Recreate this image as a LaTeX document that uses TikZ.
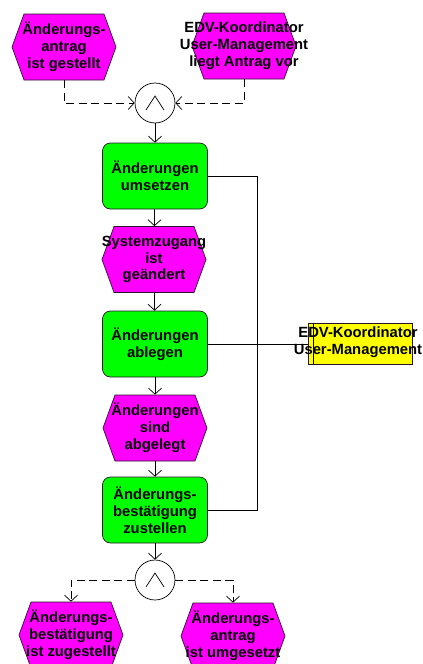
\documentclass[tikz,border=0pt]{standalone}
\usepackage{fontspec}
\setmainfont{Liberation Sans}
\usetikzlibrary{arrows.meta,shapes.symbols}

\definecolor{evfill}{RGB}{255,0,255}
\definecolor{fnfill}{RGB}{0,255,0}
\definecolor{orgfill}{RGB}{255,255,0}
\definecolor{edge}{RGB}{40,20,40}

\begin{document}
\begin{tikzpicture}[x=1pt,y=-1pt,
  lbl/.style={font=\bfseries\fontsize{14.8}{16.8}\selectfont, align=center, inner sep=0pt},
  event/.style={shape=signal, signal to=east and west, signal pointer angle=140,
    draw=edge, line width=0.7pt, fill=evfill, minimum width=104pt, minimum height=66pt, inner sep=0pt},
  func/.style={rectangle, rounded corners=8pt, draw=edge, line width=0.7pt, fill=fnfill,
    minimum width=105pt, minimum height=66pt, inner sep=0pt, lbl},
  orgunit/.style={rectangle, draw=edge, line width=0.7pt, fill=orgfill,
    minimum width=104pt, minimum height=41pt, inner sep=0pt},
  conn/.style={circle, draw=black, line width=0.7pt, fill=white, minimum size=40pt, inner sep=0pt},
  link/.style={draw=black, line width=0.7pt},
  arr/.style={-{Straight Barb[length=6pt,width=13pt,line width=0.7pt]}},
  flow/.style={link, dash pattern=on 8pt off 4.5pt, arr},
]
\useasboundingbox (0,0) rectangle (423,664);

% start events
\node[event] (e1) at (64,47) {};
\node[lbl] (t1) at (e1) {Änderungs-\\antrag\\ist gestellt};
\node[event] (e2) at (244,46) {};
\node[lbl] (t2) at (e2) {EDV-Koordinator\\User-Management\\liegt Antrag vor};

% AND join
\node[conn] (x1) at (155,103) {};
\draw[link] ([shift={(-9,7)}]x1.center) -- ([shift={(0,-7)}]x1.center) -- ([shift={(9,7)}]x1.center);

% process chain
\node[func] (f1) at (155,176) {Änderungen\\umsetzen};
\node[event] (e3) at (154,259.5) {};
\node[lbl] (t3) at (e3) {Systemzugang\\ist\\geändert};
\node[func] (f2) at (155,344) {Änderungen\\ablegen};
\node[event] (e4) at (155,428) {};
\node[lbl] (t4) at (e4) {Änderungen\\sind\\abgelegt};
\node[func] (f3) at (155,510) {Änderungs-\\bestätigung\\zustellen};

% AND split
\node[conn] (x2) at (155,580) {};
\draw[link] ([shift={(-9,7)}]x2.center) -- ([shift={(0,-7)}]x2.center) -- ([shift={(9,7)}]x2.center);

% end events
\node[event] (e5) at (71,635) {};
\node[lbl] (t5) at (e5) {Änderungs-\\bestätigung\\ist zugestellt};
\node[event] (e6) at (233,636) {};
\node[lbl] (t6) at (e6) {Änderungs-\\antrag\\ist umgesetzt};

% organisational unit
\node[orgunit] (o) at (360,344) {};
\draw[link] ([xshift=6pt]o.north west) -- ([xshift=6pt]o.south west);
\node[lbl] (to) at (358,342) {EDV-Koordinator\\User-Management};

% control flow
\draw[flow] (e1.south) |- (x1.west);
\draw[flow] (e2.south) |- (x1.east);
\draw[link, arr] (x1) -- (f1);
\draw[link, arr] (f1) -- (e3);
\draw[link, arr] (e3) -- (f2);
\draw[link, arr] (f2) -- (e4);
\draw[link, arr] (e4) -- (f3);
\draw[link, arr] (f3) -- (x2);
\draw[flow] (x2.west) -| (e5.north);
\draw[flow] (x2.east) -| (e6.north);

% assignment of the organisational unit
\coordinate (bus) at (257,344);
\draw[link] (f1.east) -| (bus);
\draw[link] (f3.east) -| (bus);
\draw[link] (f2.east) -- (o.west);
\end{tikzpicture}
\end{document}
